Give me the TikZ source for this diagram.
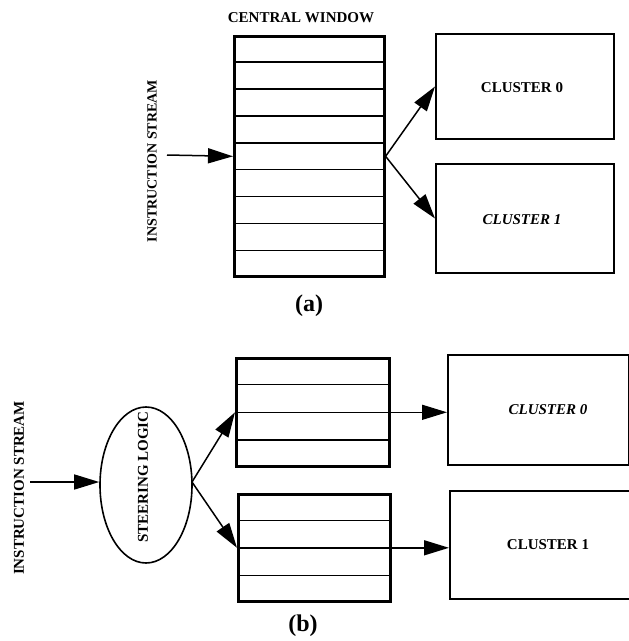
\documentclass[tikz,border=0pt]{standalone}
\usepackage{fontspec}
\setmainfont{Liberation Serif}
\usetikzlibrary{arrows.meta,shapes.geometric,calc}
\tikzset{
  arr/.style={line width=1.5pt,-{Triangle[length=25pt,width=15pt]}},
  winbox/.style={draw,line width=2.6pt,inner sep=0pt,anchor=north west},
  clbox/.style={draw,line width=2pt,inner sep=0pt,anchor=north west},
  rowline/.style={line width=1.4pt},
  lbl/.style={font=\fontsize{15}{17}\selectfont\bfseries,inner sep=0pt},
  lbls/.style={font=\fontsize{14}{16}\selectfont\bfseries,inner sep=0pt},
  lbli/.style={font=\fontsize{15}{17}\selectfont\bfseries\itshape,inner sep=0pt},
  sublbl/.style={font=\fontsize{24}{26}\selectfont\bfseries,inner sep=0pt},
}
\begin{document}
\begin{tikzpicture}[x=1pt,y=-1pt]
\useasboundingbox[fill=white] (0,0) rectangle (629,641);
% ---------- (a) ----------
\node[lbl] (cwl) at (301,18) {CENTRAL WINDOW};
\node[winbox,minimum width=150pt,minimum height=240pt] (cw) at (233,35) {};
\foreach \i in {1,...,8}
  \draw[rowline] ($(cw.north west)!\i/9!(cw.south west)$) -- ($(cw.north east)!\i/9!(cw.south east)$);
\node[clbox,minimum width=178pt,minimum height=105pt] (c0) at (435,33) {};
\node[clbox,minimum width=178pt,minimum height=109pt] (c1) at (435,163) {};
\node[lbl] (c0t) at (522,88) {CLUSTER 0};
\node[lbli] (c1t) at (522,220) {CLUSTER 1};
\node[lbls,rotate=90] (isa) at (152,161) {INSTRUCTION STREAM};
\coordinate (isa0) at (167,155);
\draw[arr] (isa0) -- (cw.west);
\draw[arr] (cw.east) -- (c0.west);
\draw[arr] (cw.east) -- (c1.west);
\node[sublbl] (a) at (309,306) {(a)};
% ---------- (b) ----------
\node[lbl,rotate=90] (isb) at (19,488) {INSTRUCTION STREAM};
\node[draw,ellipse,line width=1.6pt,minimum width=92pt,minimum height=156pt,inner sep=0pt] (sl) at (146,485) {};
\node[lbl,rotate=90] (slt) at (143,477) {STEERING LOGIC};
\coordinate (isb0) at (30,482);
\draw[arr] (isb0) -- (sl.west |- isb0);
\node[winbox,minimum width=153pt,minimum height=108pt] (b0) at (235,357) {};
\node[winbox,minimum width=152pt,minimum height=107pt] (b1) at (237,493) {};
\foreach \i in {1,2,3} {
  \draw[rowline] ($(b0.north west)!\i/4!(b0.south west)$) -- ($(b0.north east)!\i/4!(b0.south east)$);
  \draw[rowline] ($(b1.north west)!\i/4!(b1.south west)$) -- ($(b1.north east)!\i/4!(b1.south east)$);
}
\node[clbox,minimum width=181pt,minimum height=110pt] (d0) at (447,354) {};
\node[clbox,minimum width=190pt,minimum height=108pt] (d1) at (449,490) {};
\node[lbli] (d0t) at (548,410) {CLUSTER 0};
\node[lbl] (d1t) at (548,545) {CLUSTER 1};
\coordinate (sle) at (192,482);
\draw[arr] (sle) -- (b0.west);
\draw[arr] (sle) -- (b1.west);
\draw[arr] (b0.east) -- (d0.west |- b0.east);
\draw[arr] (b1.east) -- (d1.west |- b1.east);
\node[sublbl] (b) at (303,626) {(b)};
\end{tikzpicture}
\end{document}
